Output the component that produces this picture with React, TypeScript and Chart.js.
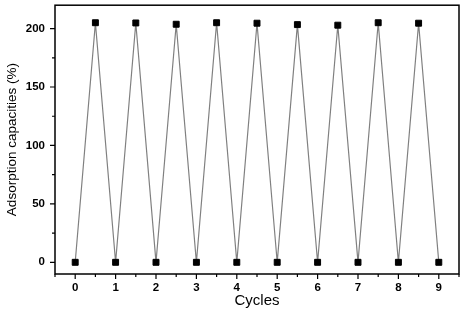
import React, { useEffect, useRef } from "react";
import { Chart, registerables } from "chart.js";

Chart.register(...registerables);

const cycleX = [0, 0.5, 1, 1.5, 2, 2.5, 3, 3.5, 4, 4.5, 5, 5.5, 6, 6.5, 7, 7.5, 8, 8.5, 9];
const capacity = [0, 205, 0, 204.8, 0, 203.7, 0, 205, 0, 204.6, 0, 203.4, 0, 202.9, 0, 205, 0, 204.6, 0];
const xMajor = [0, 1, 2, 3, 4, 5, 6, 7, 8, 9];
const xMinor = [-0.5, 0.5, 1.5, 2.5, 3.5, 4.5, 5.5, 6.5, 7.5, 8.5, 9.5];
const yMajor = [0, 50, 100, 150, 200];
const yMinor = [25, 75, 125, 175];

const framePlugin = {
  id: "frameTicks",
  afterDraw(chart: any) {
    const { ctx, chartArea, scales } = chart;
    const { left, right, top, bottom } = chartArea;
    ctx.save();
    ctx.strokeStyle = "#000";
    ctx.lineWidth = 1.5;
    ctx.strokeRect(left, top, right - left, bottom - top);
    ctx.lineWidth = 1.2;
    ctx.beginPath();
    const xs = scales.x;
    const ys = scales.y;
    xMajor.forEach((v) => {
      const p = xs.getPixelForValue(v);
      ctx.moveTo(p, bottom);
      ctx.lineTo(p, bottom + 5);
    });
    xMinor.forEach((v) => {
      const p = xs.getPixelForValue(v);
      ctx.moveTo(p, bottom);
      ctx.lineTo(p, bottom + 3);
    });
    yMajor.forEach((v) => {
      const p = ys.getPixelForValue(v);
      ctx.moveTo(left, p);
      ctx.lineTo(left - 5, p);
    });
    yMinor.forEach((v) => {
      const p = ys.getPixelForValue(v);
      ctx.moveTo(left, p);
      ctx.lineTo(left - 3, p);
    });
    ctx.stroke();
    ctx.restore();
  },
};

export default function App() {
  const ref = useRef<HTMLCanvasElement>(null);
  useEffect(() => {
    if (!ref.current) return;
    const chart = new Chart(ref.current, {
      type: "line",
      data: {
        datasets: [
          {
            data: cycleX.map((x, i) => ({ x, y: capacity[i] })),
            borderColor: "#808080",
            borderWidth: 1.2,
            pointStyle: "rect",
            pointRadius: 4.2,
            pointBackgroundColor: "#000",
            pointBorderColor: "#000",
            pointBorderWidth: 1,
            tension: 0,
          },
        ],
      },
      options: {
        animation: false,
        responsive: false,
        devicePixelRatio: 1,
        layout: { padding: { top: 3, right: 13, left: 0, bottom: 0 } },
        plugins: { legend: { display: false }, tooltip: { enabled: false } },
        scales: {
          x: {
            type: "linear",
            min: -0.5,
            max: 9.5,
            afterBuildTicks: (s: any) => {
              s.ticks = xMajor.map((v) => ({ value: v }));
            },
            afterFit: (s: any) => {
              s.height = 36;
              s.paddingLeft = 0;
              s.paddingRight = 0;
            },
            grid: { display: false, drawTicks: false },
            border: { display: false },
            ticks: {
              padding: 7,
              color: "#000",
              font: { family: "Liberation Sans", size: 11.5, weight: "bold" },
              maxRotation: 0,
              autoSkip: false,
            },
            title: {
              display: true,
              text: "Cycles",
              color: "#000",
              font: { family: "Liberation Sans", size: 15 },
              padding: { top: 0, bottom: 0 },
            },
          },
          y: {
            type: "linear",
            min: -10,
            max: 220,
            afterBuildTicks: (s: any) => {
              s.ticks = yMajor.map((v) => ({ value: v }));
            },
            afterFit: (s: any) => {
              s.width = 55;
              s.paddingTop = 0;
              s.paddingBottom = 0;
            },
            grid: { display: false, drawTicks: false },
            border: { display: false },
            ticks: {
              padding: 10,
              color: "#000",
              font: { family: "Liberation Sans", size: 11.5, weight: "bold" },
            },
            title: {
              display: true,
              text: "Adsorption capacities (%)",
              color: "#000",
              font: { family: "Liberation Sans", size: 13.5 },
              padding: { top: 4, bottom: 0 },
            },
          },
        },
      },
      plugins: [framePlugin],
    } as any);
    return () => chart.destroy();
  }, []);
  return (
    <div style={{ position: "absolute", left: 0, top: 0, width: 472, height: 310, background: "#fff" }}>
      <canvas ref={ref} width={472} height={310} />
    </div>
  );
}
